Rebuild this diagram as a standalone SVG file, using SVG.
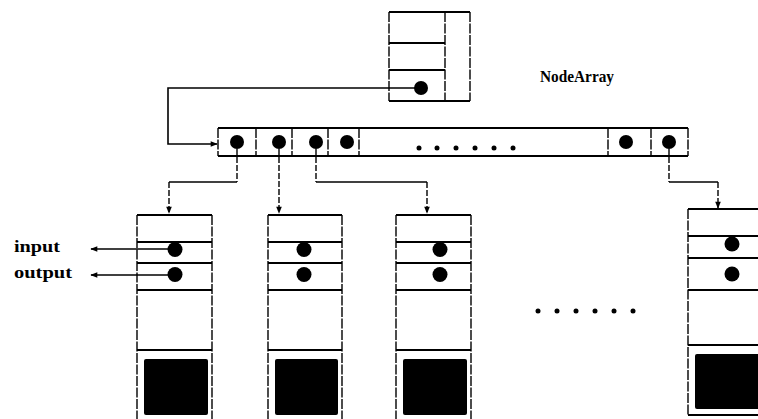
<svg xmlns="http://www.w3.org/2000/svg" width="758" height="419" viewBox="0 0 758 419">
<defs>
<style>
.h{stroke:#000;stroke-width:2;fill:none}
.v{stroke:#000;stroke-width:1.4;fill:none;stroke-dasharray:10 1.5}
.c{stroke:#000;stroke-width:1.6;fill:none}
.cv{stroke:#000;stroke-width:1.4;fill:none;stroke-dasharray:6 2}
.dot{fill:#000}
.sq{fill:#000}
.lbl{font-family:"Liberation Serif",serif;font-weight:bold;fill:#000}
</style>
<marker id="ah" viewBox="0 0 10 10" refX="9" refY="5" markerWidth="8" markerHeight="7" markerUnits="userSpaceOnUse" orient="auto">
<path d="M0,1 L10,5 L0,9 Z" fill="#000"/>
</marker>
</defs>
<rect width="758" height="419" fill="#fff"/>

<g id="connectors">
<path class="c" d="M421,88 H168 V144 H217" marker-end="url(#ah)"/>
<path class="cv" d="M237,149 V182"/>
<path class="c" d="M237,182 H169"/>
<path class="cv" d="M169,182 V213" marker-end="url(#ah)"/>
<path class="cv" d="M279,149 V213" marker-end="url(#ah)"/>
<path class="cv" d="M316,149 V182"/>
<path class="c" d="M316,182 H427"/>
<path class="cv" d="M427,182 V213" marker-end="url(#ah)"/>
<path class="cv" d="M669,149 V182"/>
<path class="c" d="M669,182 H718"/>
<path class="cv" d="M718,182 V208" marker-end="url(#ah)"/>
<path class="c" d="M175,249 H91" marker-end="url(#ah)"/>
<path class="c" d="M175,275 H91" marker-end="url(#ah)"/>
</g>

<g id="top-node">
<path class="h" d="M389,12 H470 M389,43 H445 M389,70 H445 M389,101 H470"/>
<path class="v" d="M389,12 V101 M445,12 V101 M470,12 V101"/>
<circle class="dot" cx="421" cy="88" r="7"/>
</g>

<g id="node-array">
<path class="h" d="M218,128 H688 M218,156 H688"/>
<path class="v" d="M218,128 V156 M256,128 V156 M292,128 V156 M328,128 V156 M359,128 V156 M608,128 V156 M651,128 V156 M688,128 V156"/>
<circle class="dot" cx="237" cy="142" r="7"/>
<circle class="dot" cx="279" cy="142" r="7"/>
<circle class="dot" cx="316" cy="142" r="7"/>
<circle class="dot" cx="347" cy="142" r="7"/>
<circle class="dot" cx="626" cy="142" r="7"/>
<circle class="dot" cx="669" cy="142" r="7"/>
<g class="dot">
<circle cx="419" cy="148" r="2.5"/><circle cx="437" cy="148" r="2.5"/><circle cx="456" cy="148" r="2.5"/><circle cx="475" cy="148" r="2.5"/><circle cx="494" cy="148" r="2.5"/><circle cx="513" cy="148" r="2.5"/>
</g>
</g>

<g id="label-nodearray">
<text class="lbl" x="540" y="82" font-size="17" textLength="74" lengthAdjust="spacingAndGlyphs">NodeArray</text>
</g>

<g id="label-io">
<text class="lbl" x="14" y="252" font-size="16" textLength="46" lengthAdjust="spacingAndGlyphs">input</text>
<text class="lbl" x="14" y="278" font-size="16" textLength="58" lengthAdjust="spacingAndGlyphs">output</text>
</g>

<g id="node-1">
<path class="h" d="M137,215 H212 M137,242 H212 M137,263 H212 M137,290 H212 M137,350 H212"/>
<path class="v" d="M137,215 V419 M212,215 V419"/>
<circle class="dot" cx="175" cy="249.5" r="7.5"/>
<circle class="dot" cx="175" cy="274.5" r="7.5"/>
<rect class="sq" x="144" y="359" width="64" height="56" rx="2"/>
</g>

<g id="node-2">
<path class="h" d="M268,215 H342 M268,242 H342 M268,263 H342 M268,290 H342 M268,350 H342"/>
<path class="v" d="M268,215 V419 M342,215 V419"/>
<circle class="dot" cx="304" cy="249.5" r="7.5"/>
<circle class="dot" cx="304" cy="274.5" r="7.5"/>
<rect class="sq" x="275" y="359" width="63" height="56" rx="2"/>
</g>

<g id="node-3">
<path class="h" d="M396,215 H471 M396,242 H471 M396,263 H471 M396,290 H471 M396,350 H471"/>
<path class="v" d="M396,215 V419 M471,215 V419"/>
<circle class="dot" cx="440" cy="249.5" r="7.5"/>
<circle class="dot" cx="440" cy="274.5" r="7.5"/>
<rect class="sq" x="403" y="359" width="64" height="56" rx="2"/>
</g>

<g id="ellipsis">
<g class="dot">
<circle cx="538" cy="311" r="2.5"/><circle cx="557" cy="311" r="2.5"/><circle cx="576" cy="311" r="2.5"/><circle cx="595" cy="311" r="2.5"/><circle cx="614" cy="311" r="2.5"/><circle cx="633" cy="311" r="2.5"/>
</g>
</g>

<g id="node-4">
<path class="h" d="M688,209 H760 M688,236 H760 M688,258 H760 M688,290 H760 M688,345 H760 M688,415 H760"/>
<path class="v" d="M688,209 V415"/>
<circle class="dot" cx="732" cy="244" r="7.5"/>
<circle class="dot" cx="732" cy="274" r="7.5"/>
<rect class="sq" x="695" y="354" width="66" height="55" rx="2"/>
</g>
</svg>
